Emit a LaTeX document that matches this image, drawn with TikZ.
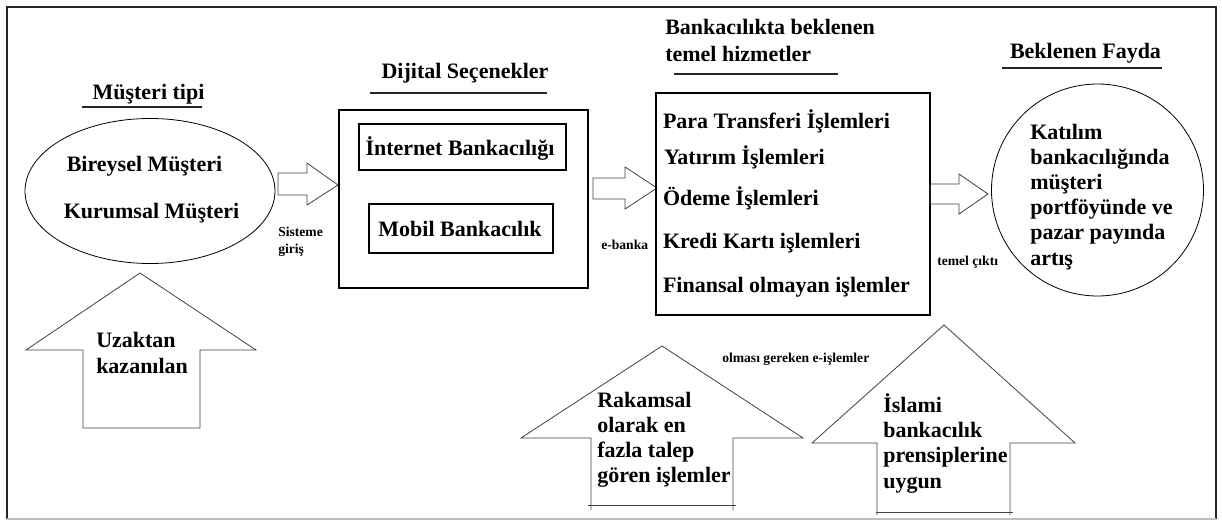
\documentclass[tikz,border=0pt]{standalone}
\usepackage{fontspec}
\setmainfont{Liberation Serif}
\usetikzlibrary{shapes.geometric}
\begin{document}
\begin{tikzpicture}[x=0.75pt,y=-0.75pt,
  big/.style={font=\fontsize{16.5}{19}\selectfont\bfseries, inner sep=0pt, outer sep=0pt},
  small/.style={font=\fontsize{10.2}{12.7}\selectfont\bfseries, inner sep=0pt, align=left},
  multi/.style={inner sep=0pt, align=left, font=\fontsize{16.5}{#1}\selectfont\bfseries},
  box/.style={draw, line width=0.8pt, inner sep=0pt},
  blk/.style={draw=black!75, line width=0.6pt, line join=miter},
  uline/.style={draw=black!85, line width=0.8pt}]
\useasboundingbox (0,0) rectangle (1222,521);
% frame
\draw[line width=1.8pt, black!85] (7,519) -- (7,7) -- (1216,7) -- (1216,519);
\draw[black!25, line width=1pt] (7,519) -- (1216,519);

% column 1
\node[big, anchor=base] (t1) at (148.5,99) {Müşteri tipi};
\draw[uline] (82,107) -- (202,107);
\node[ellipse, draw, line width=0.6pt, inner sep=0pt, minimum width={250*0.75pt}, minimum height={145*0.75pt}] (ell) at (150,191) {};
\node[big, anchor=base] (bir) at (144.5,171) {Bireysel Müşteri};
\node[big, anchor=base] (kur) at (151.5,218) {Kurumsal Müşteri};
\draw[blk] (83,428) -- (83,350) -- (26,350) -- (140,273) -- (256,350) -- (200,350) -- (200,428) -- cycle;
\node[multi=19.5pt, anchor=base west] (uz) at (96,373) {Uzaktan\\kazanılan};

% arrow 1
\draw[blk] (278,173) -- (307,173) -- (307,163) -- (338,185) -- (307,205) -- (307,195) -- (278,195) -- cycle;
\node[small, anchor=base west] (sg) at (278,253) {Sisteme\\giriş};

% column 2
\node[big, anchor=base] (t2) at (465,78) {Dijital Seçenekler};
\draw[uline] (370,93) -- (547,93);
\node[box, minimum width={249*0.75pt}, minimum height={178*0.75pt}] (dig) at (463.5,199) {};
\node[box, minimum width={207*0.75pt}, minimum height={46*0.75pt}] (ibx) at (462.5,147) {};
\node[big, anchor=base] (ib) at (460,155) {İnternet Bankacılığı};
\node[box, minimum width={184*0.75pt}, minimum height={49*0.75pt}] (mbx) at (461,228.5) {};
\node[big, anchor=base] (mb) at (460,236) {Mobil Bankacılık};

% arrow 2
\draw[blk] (593,178) -- (625,178) -- (625,167) -- (657,188) -- (625,209) -- (625,199) -- (593,199) -- cycle;
\node[small, anchor=base west] (eb) at (601,249) {e-banka};

% column 3
\node[multi=20.25pt, anchor=base west] (t3) at (665,61) {Bankacılıkta beklenen\\temel hizmetler};
\draw[uline] (674,74) -- (838,74);
\node[box, minimum width={274*0.75pt}, minimum height={222*0.75pt}] (lst) at (793,204) {};
\node[big, anchor=base west] (l1) at (663,128) {Para Transferi İşlemleri};
\node[big, anchor=base west] (l2) at (664,164) {Yatırım İşlemleri};
\node[big, anchor=base west] (l3) at (663,205) {Ödeme İşlemleri};
\node[big, anchor=base west] (l4) at (663,248) {Kredi Kartı işlemleri};
\node[big, anchor=base west] (l5) at (663,292) {Finansal olmayan işlemler};

% arrow 3
\draw[blk] (930,184) -- (959,184) -- (959,174) -- (988,194) -- (959,214) -- (959,204) -- (930,204) -- cycle;
\node[small, anchor=base west] (tc) at (937,265) {temel çıktı};

% column 4
\node[big, anchor=base] (t4) at (1085.5,58) {Beklenen Fayda};
\draw[uline] (1002,68) -- (1162,68);
\node[circle, draw, line width=0.6pt, inner sep=0pt, minimum size={212*0.75pt}] (cir) at (1097.5,190) {};
\node[multi=18.9pt, anchor=base west] (ct) at (1030,265) {Katılım\\bankacılığında\\müşteri\\portföyünde ve\\pazar payında\\artış};

% bottom arrows
\node[small, anchor=base west] (og) at (722,362) {olması gereken e-işlemler};
\draw[blk] (591,510) -- (591,438) -- (521,438) -- (662,346) -- (803,438) -- (733,438) -- (733,510);
\draw[blk] (588,505) -- (736,505);
\node[multi=18.75pt, anchor=base west] (rk) at (597,482) {Rakamsal\\olarak en\\fazla talep\\gören işlemler};
\draw[blk] (877,515) -- (877,443) -- (812,443) -- (944,325) -- (1075,443) -- (1010,443) -- (1010,515);
\draw[blk] (876,512) -- (1013,512);
\node[multi=18.975pt, anchor=base west] (isl) at (883,488) {İslami\\bankacılık\\prensiplerine\\uygun};
\end{tikzpicture}
\end{document}
